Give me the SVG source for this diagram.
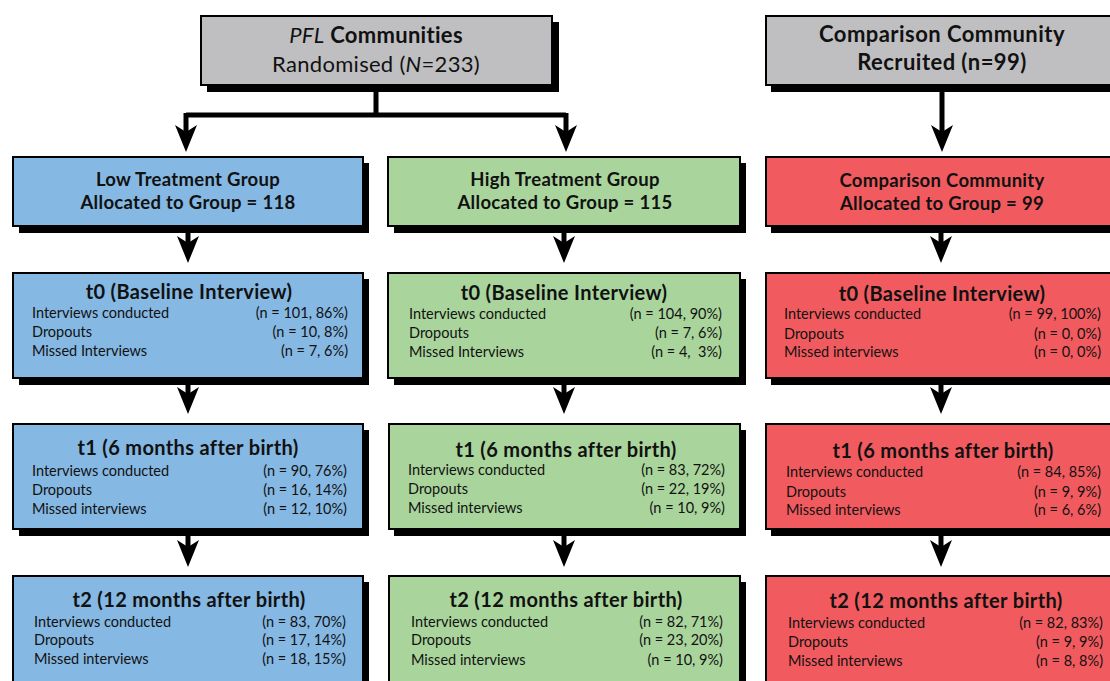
<svg xmlns="http://www.w3.org/2000/svg" width="1110" height="681" viewBox="0 0 1110 681">
<style>
.bx{stroke:#000;stroke-width:2}
.sh{fill:#000}
.gray{fill:#bfbfc1}
.blue{fill:#85b8e3}
.green{fill:#a9d59c}
.red{fill:#f15b5f}
text{font-family:Lato,"Open Sans","Liberation Sans",sans-serif;fill:#111}
.top{font-size:22px;text-anchor:middle;letter-spacing:0.3px}
.topb{font-size:22px;font-weight:700;text-anchor:middle;letter-spacing:0.45px}
.g{font-size:18.5px;font-weight:700;text-anchor:middle;letter-spacing:0.3px}
.h{font-size:20px;font-weight:700;text-anchor:middle;letter-spacing:0.35px}
.r{font-size:14.5px}
.v{font-size:14.5px;text-anchor:end}
.conn{stroke:#000;stroke-width:5;fill:none}
.ar{stroke:#000;stroke-width:5;fill:none;marker-end:url(#arr)}
</style>
<defs>
<marker id="arr" markerUnits="userSpaceOnUse" viewBox="0 0 27 22" refX="7" refY="11" markerWidth="27" markerHeight="22" orient="auto">
<path d="M0,0 L27,11 L0,22 L7,11 Z" fill="#000"/>
</marker>
</defs>
<rect width="1110" height="681" fill="#fff"/>

<g id="connectors">
<path class="conn" d="M376,85 V115 M186,115 H566"/>
<line class="ar" x1="186" y1="113" x2="186" y2="132"/>
<line class="ar" x1="566" y1="113" x2="566" y2="132"/>
<line class="ar" x1="942" y1="85" x2="942" y2="132"/>
<line class="ar" x1="188" y1="226" x2="188" y2="243"/>
<line class="ar" x1="564" y1="226" x2="564" y2="243"/>
<line class="ar" x1="941" y1="226" x2="941" y2="243"/>
<line class="ar" x1="188" y1="378" x2="188" y2="394"/>
<line class="ar" x1="564" y1="378" x2="564" y2="394"/>
<line class="ar" x1="941" y1="378" x2="941" y2="394"/>
<line class="ar" x1="188" y1="529" x2="188" y2="547"/>
<line class="ar" x1="564" y1="529" x2="564" y2="547"/>
<line class="ar" x1="941" y1="529" x2="941" y2="547"/>
</g>

<g id="pfl">
<rect class="sh" x="207" y="22" width="352" height="70"/>
<rect class="bx gray" x="201" y="16" width="351" height="69"/>
<text class="top" x="376" y="43"><tspan font-style="italic">PFL</tspan><tspan font-weight="700"> Communities</tspan></text>
<text class="top" x="376" y="72">Randomised (<tspan font-style="italic">N</tspan>=233)</text>
</g>

<g id="comp-recruited">
<rect class="sh" x="771" y="22" width="350" height="70"/>
<rect class="bx gray" x="766" y="16" width="350" height="69"/>
<text class="topb" x="942" y="42">Comparison Community</text>
<text class="topb" x="942" y="70">Recruited (n=99)</text>
</g>

<g id="low-group">
<rect class="sh" x="19" y="163" width="350" height="70"/>
<rect class="bx blue" x="13" y="157" width="350" height="69"/>
<text class="g" x="188" y="186">Low Treatment Group</text>
<text class="g" x="188" y="209">Allocated to Group = 118</text>
</g>

<g id="high-group">
<rect class="sh" x="394" y="163" width="352" height="70"/>
<rect class="bx green" x="388" y="157" width="352" height="69"/>
<text class="g" x="565" y="186">High Treatment Group</text>
<text class="g" x="565" y="209">Allocated to Group = 115</text>
</g>

<g id="comp-group">
<rect class="sh" x="771" y="163" width="350" height="70"/>
<rect class="bx red" x="766" y="157" width="350" height="69"/>
<text class="g" x="942" y="187">Comparison Community</text>
<text class="g" x="942" y="210">Allocated to Group = 99</text>
</g>

<g id="low-t0">
<rect class="sh" x="19" y="279" width="350" height="106"/>
<rect class="bx blue" x="13" y="273" width="350" height="105"/>
<text class="h" x="189" y="299">t0 (Baseline Interview)</text>
<text class="r" x="32" y="318">Interviews conducted</text>
<text class="r" x="32" y="337">Dropouts</text>
<text class="r" x="32" y="356">Missed Interviews</text>
<text class="v" x="348" y="318">(n = 101, 86%)</text>
<text class="v" x="348" y="337">(n = 10, 8%)</text>
<text class="v" x="348" y="356">(n = 7, 6%)</text>
</g>

<g id="high-t0">
<rect class="sh" x="394" y="279" width="352" height="106"/>
<rect class="bx green" x="388" y="273" width="352" height="105"/>
<text class="h" x="564" y="300">t0 (Baseline Interview)</text>
<text class="r" x="409" y="319">Interviews conducted</text>
<text class="r" x="409" y="338">Dropouts</text>
<text class="r" x="409" y="357">Missed Interviews</text>
<text class="v" x="722" y="319">(n = 104, 90%)</text>
<text class="v" x="722" y="338">(n = 7, 6%)</text>
<text class="v" x="722" y="357" xml:space="preserve">(n = 4,  3%)</text>
</g>

<g id="comp-t0">
<rect class="sh" x="771" y="279" width="350" height="106"/>
<rect class="bx red" x="766" y="273" width="350" height="105"/>
<text class="h" x="942" y="301">t0 (Baseline Interview)</text>
<text class="r" x="784" y="319">Interviews conducted</text>
<text class="r" x="784" y="339">Dropouts</text>
<text class="r" x="784" y="357">Missed interviews</text>
<text class="v" x="1101" y="319">(n = 99, 100%)</text>
<text class="v" x="1101" y="339">(n = 0, 0%)</text>
<text class="v" x="1101" y="357">(n = 0, 0%)</text>
</g>

<g id="low-t1">
<rect class="sh" x="19" y="430" width="350" height="106"/>
<rect class="bx blue" x="13" y="424" width="350" height="105"/>
<text class="h" x="188" y="455">t1 (6 months after birth)</text>
<text class="r" x="32" y="476">Interviews conducted</text>
<text class="r" x="32" y="495">Dropouts</text>
<text class="r" x="32" y="514">Missed interviews</text>
<text class="v" x="347" y="476">(n = 90, 76%)</text>
<text class="v" x="347" y="495">(n = 16, 14%)</text>
<text class="v" x="347" y="514">(n = 12, 10%)</text>
</g>

<g id="high-t1">
<rect class="sh" x="394" y="430" width="352" height="106"/>
<rect class="bx green" x="389" y="424" width="351" height="105"/>
<text class="h" x="566" y="457">t1 (6 months after birth)</text>
<text class="r" x="408" y="475">Interviews conducted</text>
<text class="r" x="408" y="494">Dropouts</text>
<text class="r" x="408" y="513">Missed interviews</text>
<text class="v" x="725" y="475">(n = 83, 72%)</text>
<text class="v" x="725" y="494">(n = 22, 19%)</text>
<text class="v" x="725" y="513">(n = 10, 9%)</text>
</g>

<g id="comp-t1">
<rect class="sh" x="771" y="430" width="350" height="106"/>
<rect class="bx red" x="766" y="424" width="350" height="105"/>
<text class="h" x="943" y="458">t1 (6 months after birth)</text>
<text class="r" x="786" y="477">Interviews conducted</text>
<text class="r" x="786" y="497">Dropouts</text>
<text class="r" x="786" y="515">Missed interviews</text>
<text class="v" x="1101" y="477">(n = 84, 85%)</text>
<text class="v" x="1101" y="497">(n = 9, 9%)</text>
<text class="v" x="1101" y="515">(n = 6, 6%)</text>
</g>

<g id="low-t2">
<rect class="sh" x="19" y="582" width="350" height="106"/>
<rect class="bx blue" x="13" y="576" width="350" height="110"/>
<text class="h" x="189" y="607">t2 (12 months after birth)</text>
<text class="r" x="34" y="627">Interviews conducted</text>
<text class="r" x="34" y="645">Dropouts</text>
<text class="r" x="34" y="664">Missed interviews</text>
<text class="v" x="346" y="627">(n = 83, 70%)</text>
<text class="v" x="346" y="645">(n = 17, 14%)</text>
<text class="v" x="346" y="664">(n = 18, 15%)</text>
</g>

<g id="high-t2">
<rect class="sh" x="394" y="582" width="352" height="106"/>
<rect class="bx green" x="389" y="576" width="351" height="110"/>
<text class="h" x="566" y="607">t2 (12 months after birth)</text>
<text class="r" x="411" y="627">Interviews conducted</text>
<text class="r" x="411" y="645">Dropouts</text>
<text class="r" x="411" y="665">Missed interviews</text>
<text class="v" x="723" y="627">(n = 82, 71%)</text>
<text class="v" x="723" y="645">(n = 23, 20%)</text>
<text class="v" x="723" y="665">(n = 10, 9%)</text>
</g>

<g id="comp-t2">
<rect class="sh" x="771" y="582" width="350" height="106"/>
<rect class="bx red" x="766" y="576" width="350" height="110"/>
<text class="h" x="946" y="608">t2 (12 months after birth)</text>
<text class="r" x="788" y="628">Interviews conducted</text>
<text class="r" x="788" y="647">Dropouts</text>
<text class="r" x="788" y="666">Missed interviews</text>
<text class="v" x="1103" y="628">(n = 82, 83%)</text>
<text class="v" x="1103" y="647">(n = 9, 9%)</text>
<text class="v" x="1103" y="666">(n = 8, 8%)</text>
</g>
</svg>
